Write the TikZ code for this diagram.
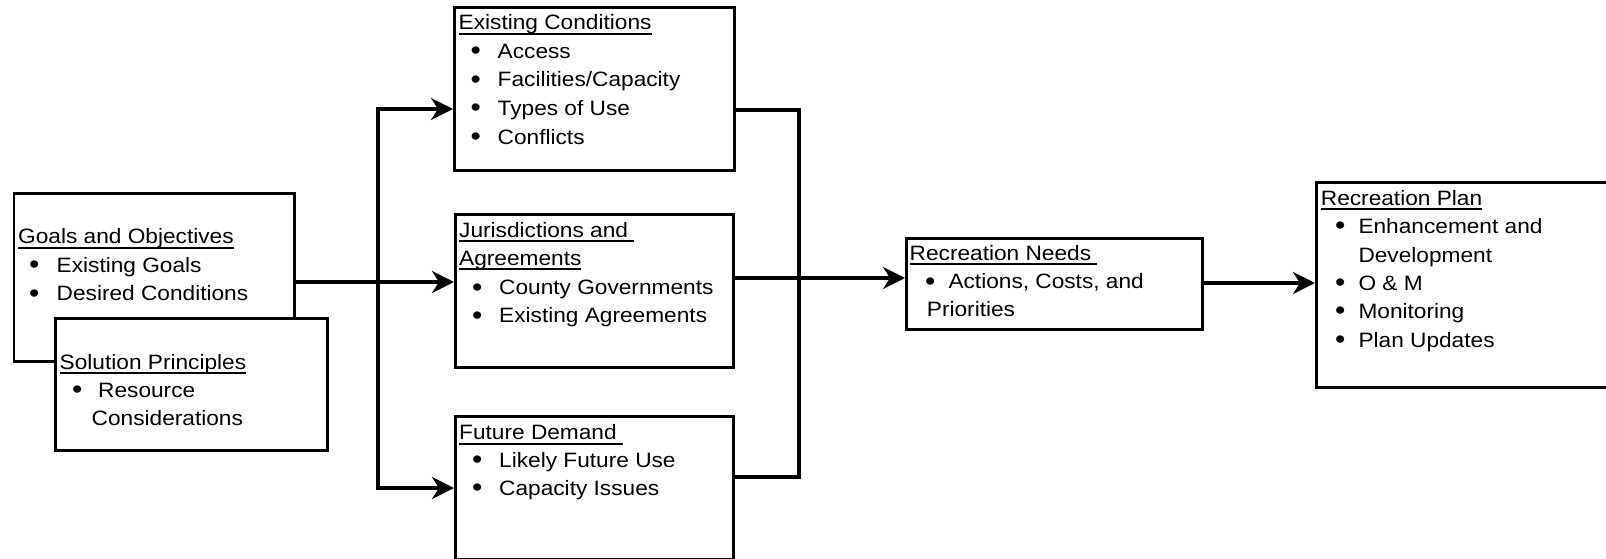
\documentclass[tikz,border=0pt]{standalone}
\usepackage{fontspec}
\setmainfont{Liberation Sans}[FakeStretch=1.09]
\usetikzlibrary{arrows.meta}
\newcommand{\myul}[1]{\setbox0\hbox{#1}\rlap{\rule[-5pt]{\wd0}{1.8pt}}\box0}
\newcommand{\bul}[1]{\llap{\makebox[0pt]{\raisebox{-1.5pt}{\fontsize{27}{27}\selectfont •}}\hspace{#1}}}
\begin{document}
\begin{tikzpicture}[x=1pt,y=-1pt,
  box/.style={draw, line width=2.8pt, fill=white, inner sep=0pt, anchor=north west},
  conn/.style={line width=4pt},
  arr/.style={conn, -{Stealth[length=22pt,width=22pt,inset=7pt]}},
  txt/.style={anchor=base west, inner sep=0pt, font=\fontsize{20.8}{28.6}\selectfont}]
\useasboundingbox (0,0) rectangle (1606,559);
\clip (0,0) rectangle (1606,559);
% boxes
\node[box, minimum width=280.5pt, minimum height=168pt] (goals) at (12.5,192) {};
\node[box, minimum width=272pt, minimum height=132pt] (sol) at (54,317) {};
\node[box, minimum width=280pt, minimum height=163pt] (ec) at (453,6) {};
\node[box, minimum width=278pt, minimum height=153pt] (jur) at (454,213) {};
\node[box, minimum width=278pt, minimum height=142.5pt] (fd) at (454,415) {};
\node[box, minimum width=296pt, minimum height=91pt] (rn) at (905,237) {};
\node[box, minimum width=305pt, minimum height=205pt] (rp) at (1315,181) {};
% texts
\node[txt] (g1) at (18,243.5) {\myul{Goals and Objectives}};
\node[txt] (g2) at (56.5,272) {\bul{22.5pt}Existing Goals};
\node[txt] (g3) at (56.5,300.5) {\bul{22.5pt}Desired Conditions};
\node[txt] (s1) at (59.5,369) {\myul{Solution Principles}};
\node[txt] (s2) at (98,397) {\bul{21pt}Resource};
\node[txt] (s3) at (91.5,425.5) {Considerations};
\node[txt] (e1) at (458.5,30) {\myul{Existing Conditions}};
\node[txt] (e2) at (497.5,58.5) {\bul{22pt}Access};
\node[txt] (e3) at (497.5,87) {\bul{22pt}Facilities/Capacity};
\node[txt] (e4) at (497.5,115.5) {\bul{22pt}Types of Use};
\node[txt] (e5) at (497.5,144.5) {\bul{22pt}Conflicts};
\node[txt] (j1) at (459,237) {\myul{Jurisdictions and\ }};
\node[txt] (j2) at (459,265) {\myul{Agreements}};
\node[txt] (j3) at (499,294.5) {\bul{22pt}County Governments};
\node[txt] (j4) at (499,322.5) {\bul{22pt}Existing Agreements};
\node[txt] (f1) at (459,439.5) {\myul{Future Demand\ }};
\node[txt] (f2) at (499,467) {\bul{22pt}Likely Future Use};
\node[txt] (f3) at (499,495) {\bul{22pt}Capacity Issues};
\node[txt] (n1) at (909.5,260) {\myul{Recreation Needs\ }};
\node[txt] (n2) at (948.3,288.5) {\bul{18.3pt}Actions, Costs, and};
\node[txt] (n3) at (926.7,316.5) {Priorities};
\node[txt] (p1) at (1320.7,205) {\myul{Recreation Plan}};
\node[txt] (p2) at (1358.3,233.3) {\bul{18.3pt}Enhancement and};
\node[txt] (p3) at (1358.3,262) {Development};
\node[txt] (p4) at (1358.3,290) {\bul{18.3pt}O \& M};
\node[txt] (p5) at (1358.3,318.3) {\bul{18.3pt}Monitoring};
\node[txt] (p6) at (1358.3,347) {\bul{18.3pt}Plan Updates};
% connectors
\coordinate (jl) at (378,282);
\coordinate (jlt) at (378,109);
\coordinate (jlb) at (378,488);
\coordinate (rt) at (799,110);
\coordinate (rb) at (799,477);
\coordinate (jr) at (799,278);
\coordinate (ro) at (1250,283);
\draw[arr] (goals.east |- jl) -- (jur.west |- jl);
\draw[arr] (jl) |- (ec.west |- jlt);
\draw[arr] (jl) |- (fd.west |- jlb);
\draw[conn] (ec.east |- rt) -- (rt) -- (rb) -- (fd.east |- rb);
\draw[arr] (jur.east |- jr) -- (rn.west |- jr);
\draw[arr] (rn.east |- ro) -- (rp.west |- ro);
\end{tikzpicture}
\end{document}
